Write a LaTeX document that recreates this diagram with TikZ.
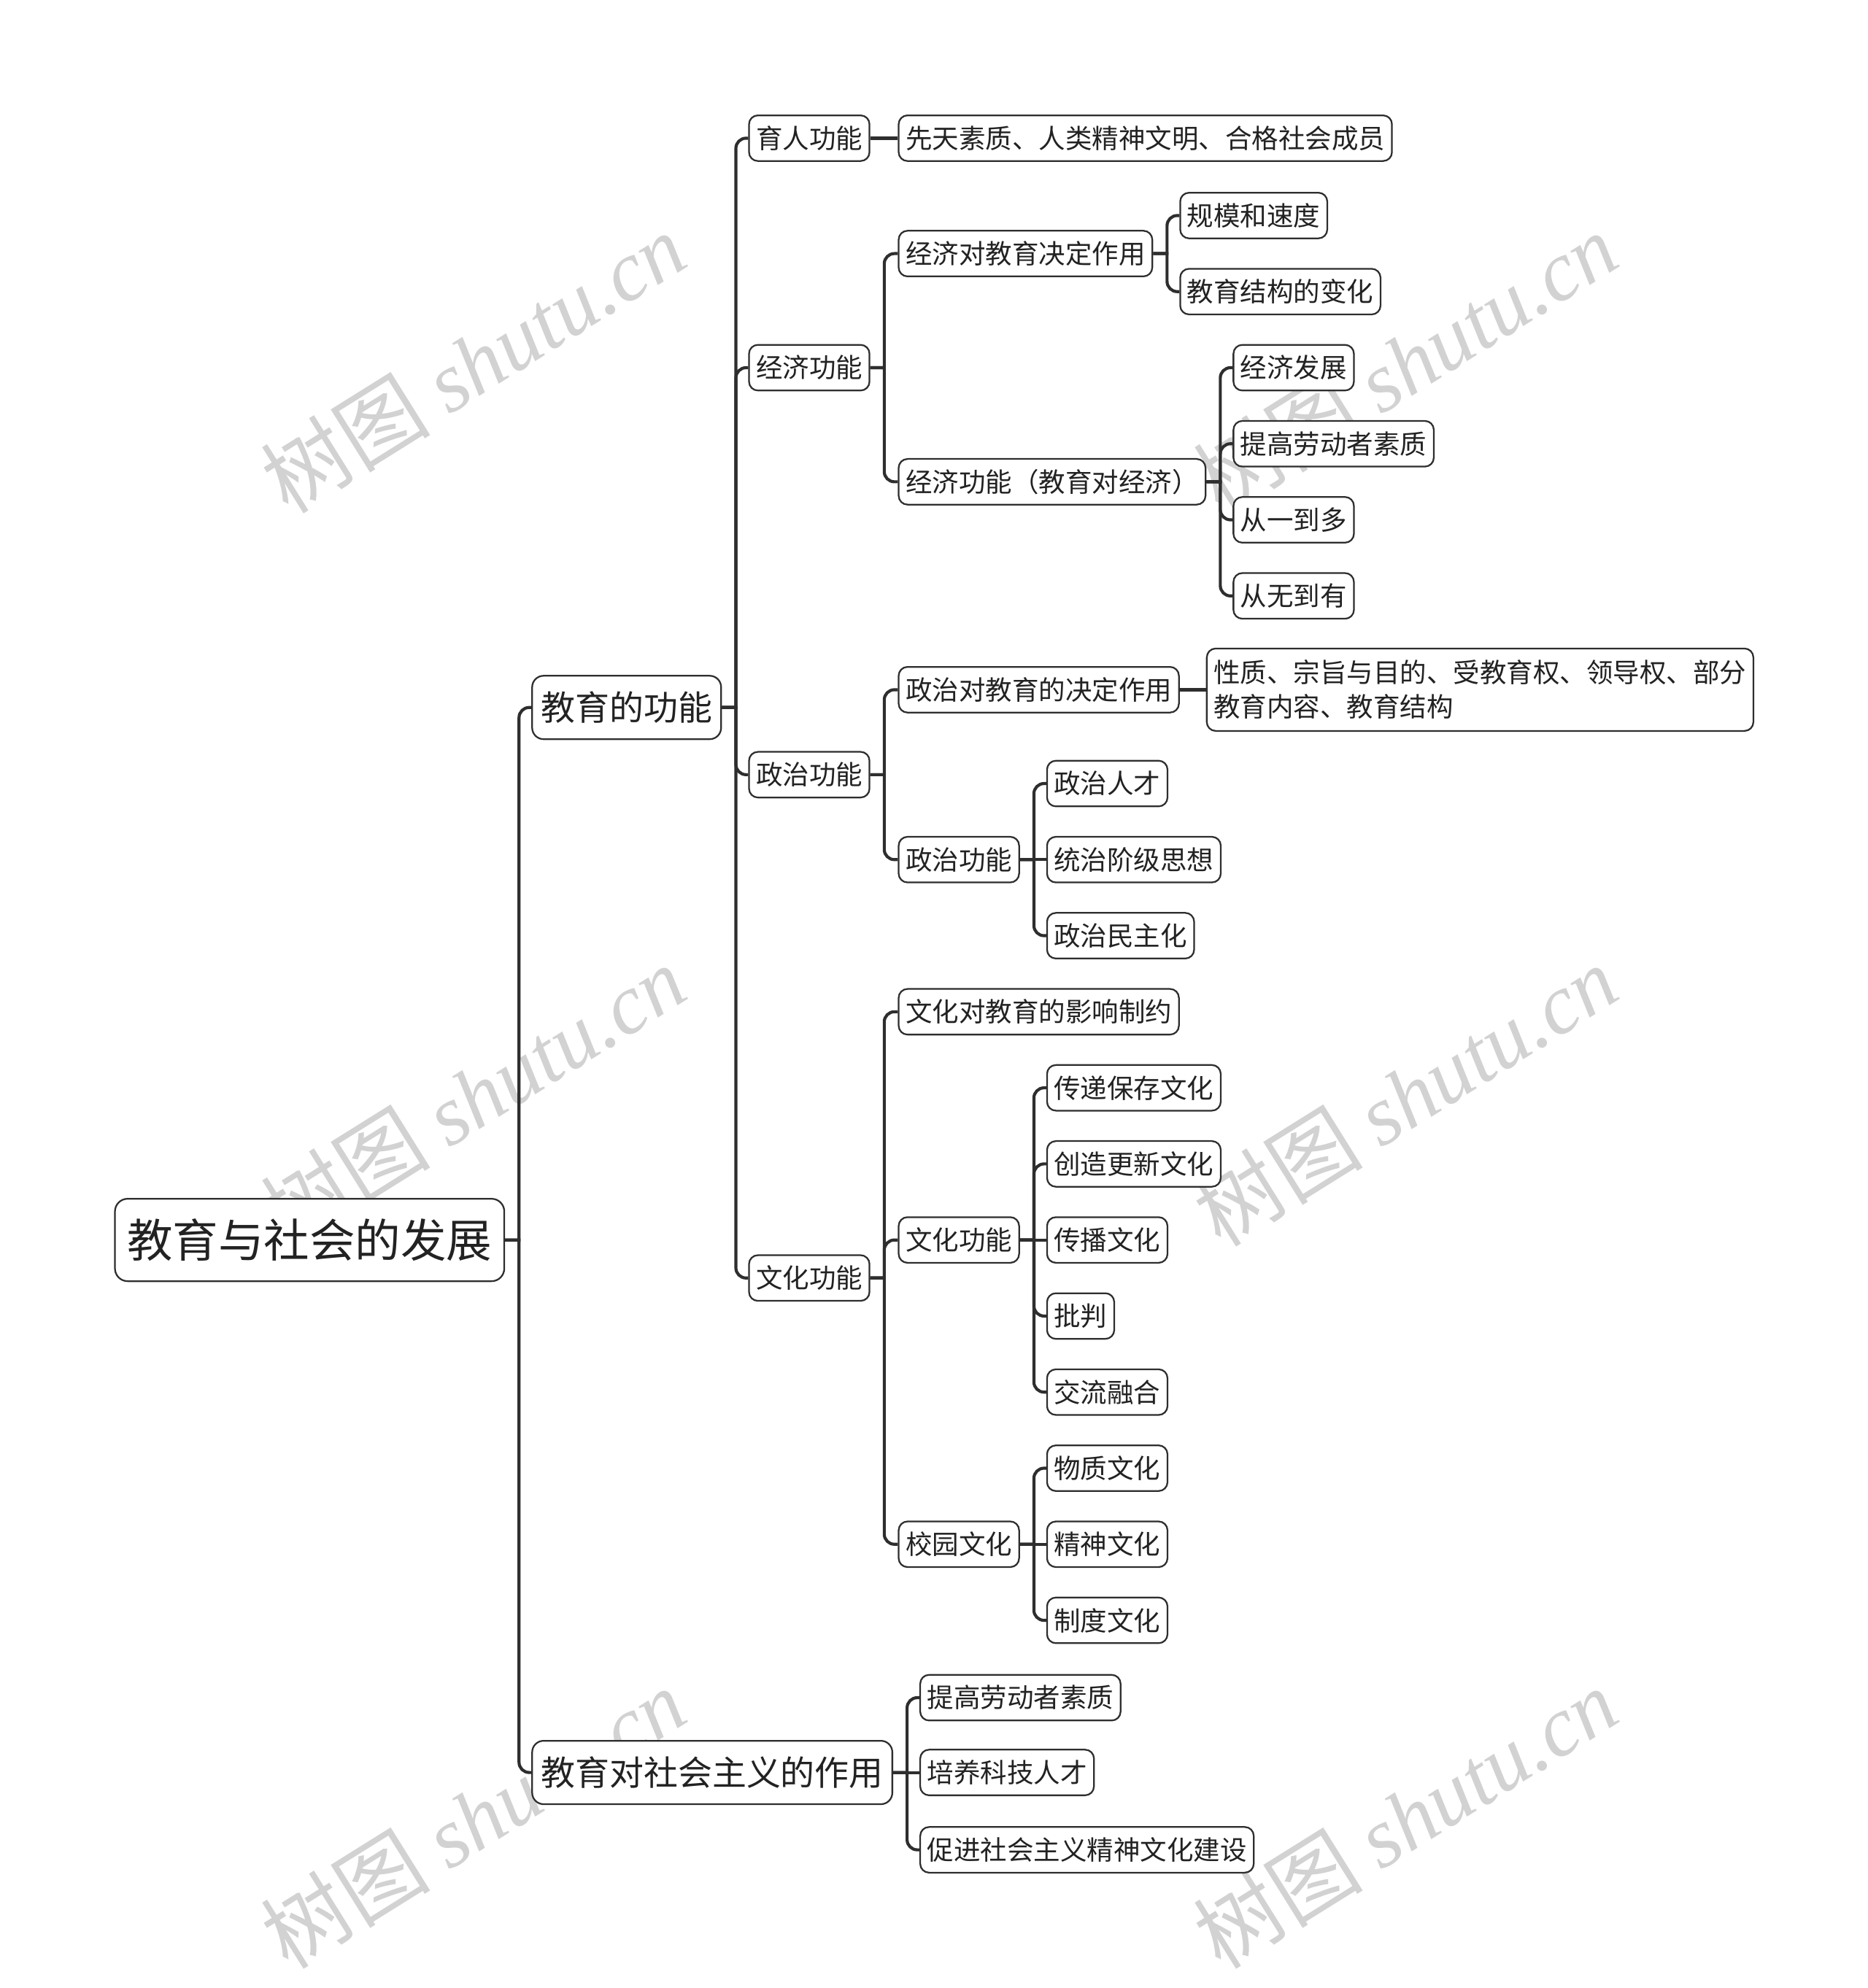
\documentclass[tikz,border=0pt]{standalone}
\usepackage{fontspec}
\setmainfont{Noto Sans CJK SC}
\newfontfamily\wmfont{Liberation Serif}
\definecolor{linec}{HTML}{2E2E2E}
\definecolor{textc}{HTML}{222222}
\definecolor{wmgray}{HTML}{D2D2D2}
\tikzset{
  box/.style={draw=linec, line width=1.3pt, rounded corners=7pt, fill=white, text=textc,
    inner xsep=5.5pt, inner ysep=0pt, minimum height=36pt, anchor=west,
    font=\fontsize{21}{27}\selectfont},
  topbox/.style={box, rounded corners=9pt, minimum height=50pt, inner xsep=7pt,
    font=\fontsize{27}{32}\selectfont},
  rootbox/.style={box, rounded corners=10pt, minimum height=65pt, inner xsep=9.5pt,
    font=\fontsize{36}{40}\selectfont},
  link/.style={draw=linec, line width=2.4pt},
  wmark/.style={text=wmgray, rotate=32, font=\fontsize{67}{67}\selectfont}
}
\begin{document}
\begin{tikzpicture}[x=1pt, y=-1pt]
  \useasboundingbox (0,0) rectangle (1473,1568);
  % watermark
  \foreach \wx/\wy in {373/286, 1108/286, 373/864, 1108/864, 373/1434, 1108/1434}
    \node[wmark] (wm-\wx-\wy) at (\wx,\wy) {树图 {\wmfont\itshape shutu.cn}};

  % root and first level
  \node[rootbox] (root) at (90,978) {教育与社会的发展};
  \node[topbox] (fn) at (419,558) {教育的功能};
  \node[topbox] (soc) at (419,1398) {教育对社会主义的作用};

  % functions
  \node[box] (yuren) at (590,109) {育人功能};
  \node[box] (jingji) at (590,290) {经济功能};
  \node[box] (zhengzhi) at (590,611) {政治功能};
  \node[box] (wenhua) at (590,1008) {文化功能};

  \node[box] (xiantian) at (708,109) {先天素质、人类精神文明、合格社会成员};
  \node[box] (jjjd) at (708,200) {经济对教育决定作用};
  \node[box] (jjgn) at (708,380) {经济功能（教育对经济）};
  \node[box] (zzjd) at (708,544) {政治对教育的决定作用};
  \node[box] (zzgn) at (708,678) {政治功能};
  \node[box] (whyx) at (708,798) {文化对教育的影响制约};
  \node[box] (whgn) at (708,978) {文化功能};
  \node[box] (xywh) at (708,1218) {校园文化};

  \node[box] (gmsd) at (930,170) {规模和速度};
  \node[box] (jgbh) at (930,230) {教育结构的变化};
  \node[box] (e1) at (972,290) {经济发展};
  \node[box] (e2) at (972,350) {提高劳动者素质};
  \node[box] (e3) at (972,410) {从一到多};
  \node[box] (e4) at (972,470) {从无到有};
  \node[box, align=left, minimum height=65pt] (xingzhi) at (951,544)
    {性质、宗旨与目的、受教育权、领导权、部分\\教育内容、教育结构};
  \node[box] (p1) at (825,618) {政治人才};
  \node[box] (p2) at (825,678) {统治阶级思想};
  \node[box] (p3) at (825,738) {政治民主化};
  \node[box] (c1) at (825,858) {传递保存文化};
  \node[box] (c2) at (825,918) {创造更新文化};
  \node[box] (c3) at (825,978) {传播文化};
  \node[box] (c4) at (825,1038) {批判};
  \node[box] (c5) at (825,1098) {交流融合};
  \node[box] (x1) at (825,1158) {物质文化};
  \node[box] (x2) at (825,1218) {精神文化};
  \node[box] (x3) at (825,1278) {制度文化};

  % socialism
  \node[box] (s1) at (725,1339) {提高劳动者素质};
  \node[box] (s2) at (725,1398) {培养科技人才};
  \node[box] (s3) at (725,1459) {促进社会主义精神文化建设};

  % connectors
  \foreach \p/\c in {root/fn, root/soc, fn/yuren, fn/jingji, fn/zhengzhi, fn/wenhua,
      jingji/jjjd, jingji/jjgn, jjjd/gmsd, jjjd/jgbh, jjgn/e1, jjgn/e2, jjgn/e3, jjgn/e4,
      zhengzhi/zzjd, zhengzhi/zzgn, zzgn/p1, zzgn/p3,
      wenhua/whyx, wenhua/whgn, wenhua/xywh, whgn/c1, whgn/c2, whgn/c4, whgn/c5,
      xywh/x1, xywh/x3, soc/s1, soc/s3}
    \draw[link] (\p.east) -- ++(11,0) [rounded corners=8pt] |- (\c.west);
  \foreach \p/\c in {yuren/xiantian, zzjd/xingzhi, zzgn/p2, whgn/c3, xywh/x2, soc/s2}
    \draw[link] (\p.east) -- (\c.west);
\end{tikzpicture}
\end{document}
